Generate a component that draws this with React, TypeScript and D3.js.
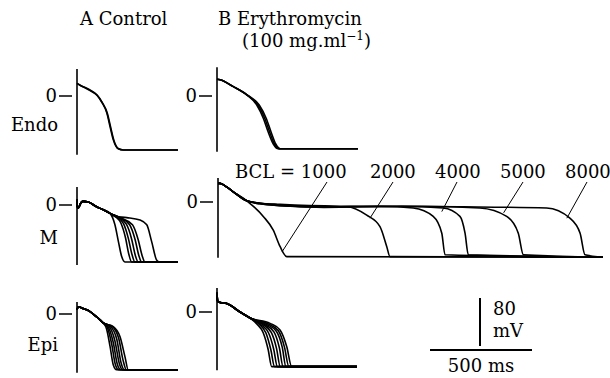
import React from 'react';
import * as d3 from 'd3';

type Pt = [number, number]; // [ms, mV]

// ---- data (time in ms, potential in mV) ----

const endoA: Pt[][] = [
  [[0, 21], [15, 18], [64, 10], [97, 2], [121, -10], [146, -28], [162, -51], [178, -73], [202, -88], [227, -90], [495, -90]],
  [[0, 21], [15, 18], [64, 9], [99, 1], [124, -11], [149, -29], [165, -52], [181, -74], [204, -88], [227, -90], [495, -90]],
];

const endoB: Pt[][] = [
  [[0, 28], [15, 27], [78, 16], [146, 2], [195, -15], [227, -37], [251, -60], [276, -80], [300, -88], [691, -88]],
  [[0, 28], [15, 27], [78, 16], [149, 1], [201, -15], [234, -37], [258, -60], [282, -80], [305, -88], [691, -88]],
  [[0, 28], [15, 27], [78, 16], [152, 1], [207, -15], [241, -37], [265, -60], [288, -80], [310, -88], [691, -88]],
];

const mHeadA: Pt[] = [[0, 10], [2, -3], [6, -5], [20, 4], [31, 6], [55, 5], [96, -3], [129, -8], [162, -14]];
const mTailsA: Pt[][] = [
  [[186, -33], [203, -61], [219, -86], [235, -95], [495, -95]],
  [[190, -20], [215, -30], [238, -55], [254, -82], [268, -95], [495, -95]],
  [[195, -20], [228, -31], [252, -56], [270, -83], [284, -95], [495, -95]],
  [[200, -20], [242, -32], [268, -57], [286, -84], [300, -95], [495, -95]],
  [[205, -20], [258, -33], [285, -58], [303, -84], [317, -95], [495, -95]],
  [[210, -21], [272, -33], [300, -58], [319, -84], [333, -95], [495, -95]],
  [[186, -19], [244, -21], [309, -25], [342, -33], [366, -61], [391, -92], [407, -95], [495, -95]],
];

const mHeadB: Pt[] = [[0, 31], [10, 31], [43, 25], [75, 17], [141, 2]];
const mTailsB: Pt[][] = [
  [[222, -24], [271, -47], [304, -74], [337, -91], [1887, -92]], // BCL 1000
  [[206, -2], [304, -5], [450, -7], [631, -8], [729, -22], [794, -41], [827, -74], [843, -91], [1887, -92]], // 2000
  [[206, -3], [304, -6], [500, -8], [800, -7], [957, -10], [1055, -24], [1097, -52], [1113, -88], [1887, -92]], // 4000
  [[206, -2], [304, -5], [520, -9], [900, -7], [1104, -10], [1186, -24], [1211, -52], [1227, -88], [1887, -92]], // 4000
  [[206, -3], [304, -6], [550, -8], [1000, -7], [1284, -10], [1415, -24], [1472, -52], [1497, -88], [1887, -92]], // 5000
  [[206, -2], [304, -4], [600, -7], [1200, -8], [1611, -10], [1725, -27], [1775, -52], [1799, -88], [1887, -92]], // 8000
];

const epiHeadA: Pt[] = [[0, 7], [6, 12], [31, 9], [64, 4], [97, -5], [129, -15]];
const epiTailsA: Pt[][] = [
  [[145, -25], [162, -54], [178, -85], [194, -93], [495, -93]],
  [[148, -22], [170, -50], [188, -84], [204, -93], [495, -93]],
  [[152, -21], [178, -48], [197, -83], [214, -93], [495, -93]],
  [[156, -20], [186, -45], [207, -82], [224, -93], [495, -93]],
  [[162, -20], [195, -42], [215, -80], [232, -93], [495, -93]],
  [[170, -20], [204, -40], [225, -76], [242, -93], [495, -93]],
  [[178, -21], [211, -38], [235, -71], [251, -93], [495, -93]],
];

const epiHeadB: Pt[] = [[0, 32], [3, 18], [15, 16], [48, 14], [113, 0], [162, -10]];
const epiTailsB: Pt[][] = [
  [[195, -20], [227, -35], [251, -63], [268, -91], [686, -91]],
  [[205, -20], [240, -35], [264, -63], [282, -91], [686, -91]],
  [[215, -21], [253, -35], [278, -62], [296, -91], [686, -91]],
  [[225, -21], [266, -34], [292, -61], [310, -91], [686, -91]],
  [[235, -21], [279, -33], [306, -60], [324, -91], [686, -91]],
  [[245, -21], [291, -32], [320, -59], [338, -91], [686, -91]],
  [[252, -20], [300, -31], [331, -59], [352, -91], [686, -91]],
  [[260, -19], [309, -30], [342, -58], [366, -91], [686, -91]],
];

const rowLabels = ['Endo', 'M', 'Epi'];
const bclLabels = ['BCL = 1000', '2000', '4000', '5000', '8000'];
// point on each trace that the leader line touches [ms, mV]
const bclTargets: Pt[] = [[314, -83], [745, -27], [1097, -16], [1400, -18], [1710, -27]];

// ---- layout ----
const PX_MS = 0.204;
const PX_MV = 0.6;
const FONT = '"DejaVu Serif", serif';

const panels = [
  { traces: endoA, x0: 77, y0: 96, top: 45, bottom: -98 },
  { traces: endoB, x0: 217, y0: 96, top: 48, bottom: -93 },
  { traces: mTailsA.map(t => [...mHeadA, ...t]), x0: 77, y0: 205, top: 30, bottom: -100 },
  { traces: mTailsB.map(t => [...mHeadB, ...t]), x0: 218, y0: 202, top: 40, bottom: -93 },
  { traces: epiTailsA.map(t => [...epiHeadA, ...t]), x0: 77, y0: 314, top: 20, bottom: -98 },
  { traces: epiTailsB.map(t => [...epiHeadB, ...t]), x0: 217, y0: 312, top: 40, bottom: -97 },
];

const scalesFor = (x0: number, y0: number) => ({
  x: d3.scaleLinear().domain([0, 1000]).range([x0, x0 + 1000 * PX_MS]),
  y: d3.scaleLinear().domain([0, 100]).range([y0, y0 - 100 * PX_MV]),
});

const bclX = [235, 370, 435, 500, 565];
const bclAnchor = [327, 393, 457, 523, 587];

export default function App() {
  const mB = scalesFor(panels[3].x0, panels[3].y0);
  const bar = scalesFor(0, 0);
  const barW = bar.x(500) - bar.x(0);
  const barH = bar.y(0) - bar.y(80);

  return (
    <svg width={610} height={378} style={{ position: 'absolute', left: 0, top: 0, background: '#fff' }}
      fontFamily={FONT} fontSize={18}>
      <text x={80} y={25}>A Control</text>
      <text x={218} y={25}>B Erythromycin</text>
      <text x={242} y={47}>(100 mg.ml<tspan fontSize={12} dy={-7}>−1</tspan><tspan dy={7}>)</tspan></text>

      <text x={58} y={131} textAnchor="end">{rowLabels[0]}</text>
      <text x={58} y={244} textAnchor="end">{rowLabels[1]}</text>
      <text x={58} y={351} textAnchor="end">{rowLabels[2]}</text>

      {panels.map((p, i) => {
        const s = scalesFor(p.x0, p.y0);
        const line = d3.line<Pt>().x(d => s.x(d[0])).y(d => s.y(d[1])).curve(d3.curveMonotoneX);
        return (
          <g key={i}>
            <line x1={p.x0} x2={p.x0} y1={s.y(p.top)} y2={s.y(p.bottom)} stroke="#000" strokeWidth={1.6} />
            <line x1={p.x0 - 18} x2={p.x0 - 5} y1={s.y(0)} y2={s.y(0)} stroke="#000" strokeWidth={1.5} />
            <text x={p.x0 - 20} y={s.y(0)} dy="0.35em" textAnchor="end">0</text>
            {p.traces.map((t, j) => (
              <path key={j} d={line(t) || ''} fill="none" stroke="#000" strokeWidth={1.6} strokeLinejoin="round" />
            ))}
          </g>
        );
      })}

      {bclLabels.map((lab, i) => (
        <g key={lab}>
          <text x={bclX[i]} y={178}>{lab}</text>
          <line x1={bclAnchor[i]} y1={182} x2={mB.x(bclTargets[i][0])} y2={mB.y(bclTargets[i][1])}
            stroke="#000" strokeWidth={1} />
        </g>
      ))}

      <line x1={480} x2={480} y1={346 - barH} y2={346} stroke="#000" strokeWidth={2} />
      <line x1={430} x2={430 + barW} y1={350} y2={350} stroke="#000" strokeWidth={2} />
      <text x={493} y={315}>80</text>
      <text x={493} y={337}>mV</text>
      <text x={430 + barW / 2} y={372} textAnchor="middle">500 ms</text>
    </svg>
  );
}
